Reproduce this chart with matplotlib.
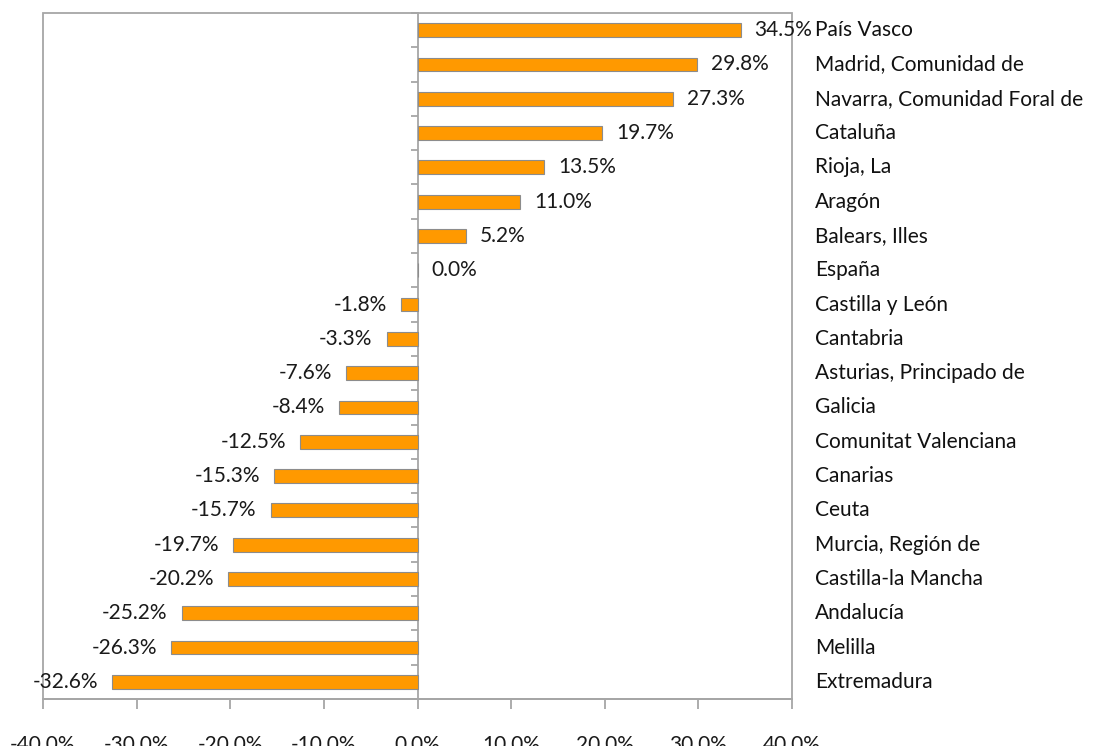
import matplotlib
matplotlib.use("Agg")
import matplotlib.pyplot as plt
import matplotlib.transforms as mtransforms
from matplotlib.patches import Rectangle
import numpy as np

regiones = [
    "País Vasco", "Madrid, Comunidad de", "Navarra, Comunidad Foral de",
    "Cataluña", "Rioja, La", "Aragón", "Balears, Illes", "España",
    "Castilla y León", "Cantabria", "Asturias, Principado de", "Galicia",
    "Comunitat Valenciana", "Canarias", "Ceuta", "Murcia, Región de",
    "Castilla-la Mancha", "Andalucía", "Melilla", "Extremadura",
]
valores = [
    34.5, 29.8, 27.3, 19.7, 13.5, 11.0, 5.2, 0.0, -1.8, -3.3,
    -7.6, -8.4, -12.5, -15.3, -15.7, -19.7, -20.2, -25.2, -26.3, -32.6,
]
ticks_x = [-40, -30, -20, -10, 0, 10, 20, 30, 40]

plt.rcParams["font.family"] = ["Lato", "DejaVu Sans"]
gris = "#a6a6a6"

fig = plt.figure(figsize=(11.02, 7.46), dpi=100)
ax = fig.add_axes([43 / 1102, 1 - 699 / 746, 749 / 1102, 686 / 746])

n = len(regiones)
y = np.arange(n)[::-1]
ax.barh(y, valores, height=0.4, color="#ff9900", edgecolor="#8c8c8c", linewidth=0.8, zorder=3)

ax.set_xlim(-40, 40)
ax.set_ylim(-0.5, n - 0.5)

# marco completo
ax.add_patch(Rectangle((0, 0), 1, 1, transform=ax.transAxes, fill=False,
                       edgecolor=gris, linewidth=1.3, clip_on=False, zorder=4))
for s in ["top", "right"]:
    ax.spines[s].set_visible(False)
ax.spines["bottom"].set_color(gris)
ax.spines["bottom"].set_linewidth(1.3)
ax.spines["left"].set_position(("data", 0))
ax.spines["left"].set_color(gris)
ax.spines["left"].set_linewidth(1.3)

ax.set_yticks(np.arange(n + 1) - 0.5)
ax.set_yticklabels([])
ax.tick_params(axis="y", direction="out", length=5, color=gris, width=1.3)

ax.set_xticks(ticks_x)
ax.set_xticklabels([f"{t:.1f}%" for t in ticks_x])
ax.tick_params(axis="x", direction="out", length=7, color=gris, width=1.3,
               labelsize=15, pad=19, labelcolor="#1a1a1a")

for yi, v in zip(y, valores):
    if v >= 0:
        ax.text(v + 1.5, yi, f"{v:.1f}%", ha="left", va="center", fontsize=15, color="#1a1a1a", zorder=5)
    else:
        ax.text(v - 1.5, yi, f"{v:.1f}%", ha="right", va="center", fontsize=15, color="#1a1a1a", zorder=5)

trans = mtransforms.blended_transform_factory(ax.transAxes, ax.transData)
for yi, r in zip(y, regiones):
    ax.text(1.031, yi, r, transform=trans, ha="left", va="center", fontsize=15, color="#111111")

fig.savefig("out.png", dpi=100)
